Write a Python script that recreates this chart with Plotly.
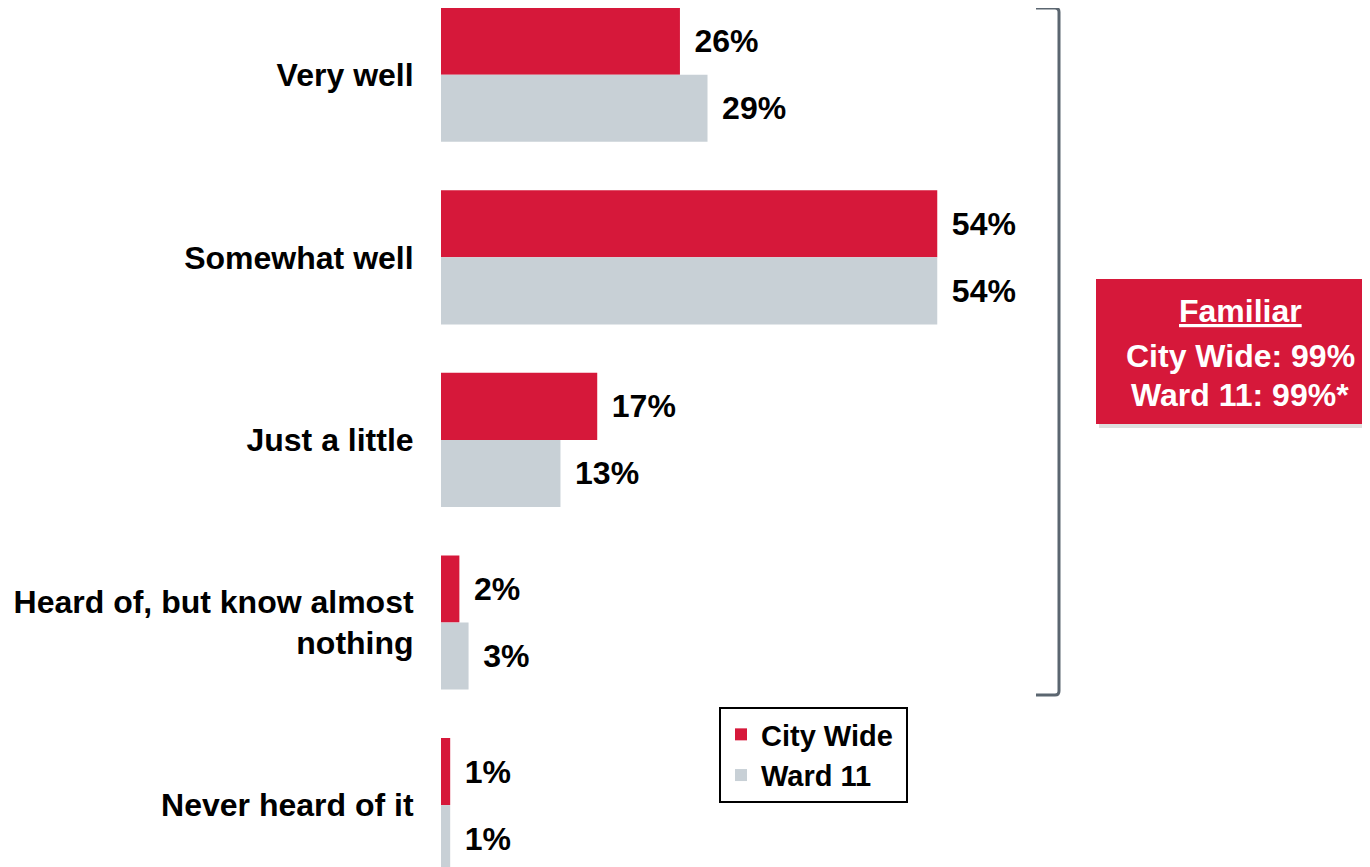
import plotly.graph_objects as go

categories = ["Very well", "Somewhat well", "Just a little",
              "Heard of, but know almost<br>nothing", "Never heard of it"]
city_wide = [26, 54, 17, 2, 1]
ward_11 = [29, 54, 13, 3, 1]
series_names = ["City Wide\u00a0", "Ward 11"]
box_lines = ["Familiar", "City Wide: 99%", "Ward 11: 99%*"]

RED = "#D6183A"
GRAY = "#C8D0D6"
OFF = 8  # page body margin
W, H = 1370 - OFF, 867 - OFF
L = 441 - OFF
FONT = "Liberation Sans, Arial, sans-serif"

px_per_pct = 9.19
ypos = list(range(len(categories)))

def px(x):
    # screen x -> paper
    return (x - OFF - L) / (W - L)

def py(y):
    # screen y -> paper
    return 1 - (y - OFF) / H

fig = go.Figure()
for name, vals, col in [(series_names[0], city_wide, RED), (series_names[1], ward_11, GRAY)]:
    fig.add_trace(go.Bar(
        name=name, x=vals, y=ypos, orientation="h",
        marker=dict(color=col, line=dict(width=0)),
        text=[f"{v}%" for v in vals],
        texttemplate="\u00a0\u200a%{text}",
        textposition="outside", constraintext="none", cliponaxis=False,
        textfont=dict(family=FONT, size=32, color="#000000", weight="bold"),
    ))

pitch = 182.6
c0 = 74.7 - OFF
y_top = (0 - c0) / pitch
y_bot = (H - c0) / pitch

fig.update_layout(
    width=W, height=H,
    margin=dict(l=L, r=0, t=0, b=0),
    paper_bgcolor="white", plot_bgcolor="white",
    barmode="group", bargap=0.265, bargroupgap=0,
    showlegend=True,
    legend=dict(
        x=px(719), y=py(707), xanchor="left", yanchor="top",
        bordercolor="#000000", borderwidth=2, bgcolor="white",
        font=dict(family=FONT, size=29, color="#000000", weight="bold"),
        traceorder="normal",
    ),
    xaxis=dict(range=[0, (W - L) / px_per_pct], visible=False, showgrid=False, zeroline=False),
    yaxis=dict(
        range=[y_bot, y_top], tickmode="array", tickvals=ypos, ticktext=categories,
        showgrid=False, zeroline=False, showline=False,
        ticks="outside", ticklen=20, tickcolor="rgba(0,0,0,0)",
        tickfont=dict(family=FONT, size=32, color="#000000", weight="bold"),
    ),
)

# bracket
x_end, x_v, y_t, y_b, r = 1036, 1059, 8, 695, 4
path = (f"M {px(x_end)},{py(y_t)} L {px(x_v - r)},{py(y_t)} "
        f"Q {px(x_v)},{py(y_t)} {px(x_v)},{py(y_t + r)} "
        f"L {px(x_v)},{py(y_b - r)} Q {px(x_v)},{py(y_b)} {px(x_v - r)},{py(y_b)} "
        f"L {px(x_end)},{py(y_b)}")
fig.add_shape(type="path", path=path, xref="paper", yref="paper",
              line=dict(color="#5B6670", width=3))

# box with shadow
fig.add_shape(type="rect", xref="paper", yref="paper",
              x0=px(1099), x1=px(1380), y0=py(283), y1=py(428),
              fillcolor="rgba(0,0,0,0.13)", line=dict(width=0))
fig.add_shape(type="rect", xref="paper", yref="paper",
              x0=px(1096), x1=px(1380), y0=py(279), y1=py(424),
              fillcolor=RED, line=dict(width=0))

box_y = [311, 356, 395]
for i, (t, yy) in enumerate(zip(box_lines, box_y)):
    fig.add_annotation(
        x=px(1240), y=py(yy), xref="paper", yref="paper",
        text=t, showarrow=False, xanchor="center", yanchor="middle",
        font=dict(family=FONT, size=32, color="white", weight="bold",
                  lineposition="under" if i == 0 else "none"),
    )

fig.write_html("out.html")
